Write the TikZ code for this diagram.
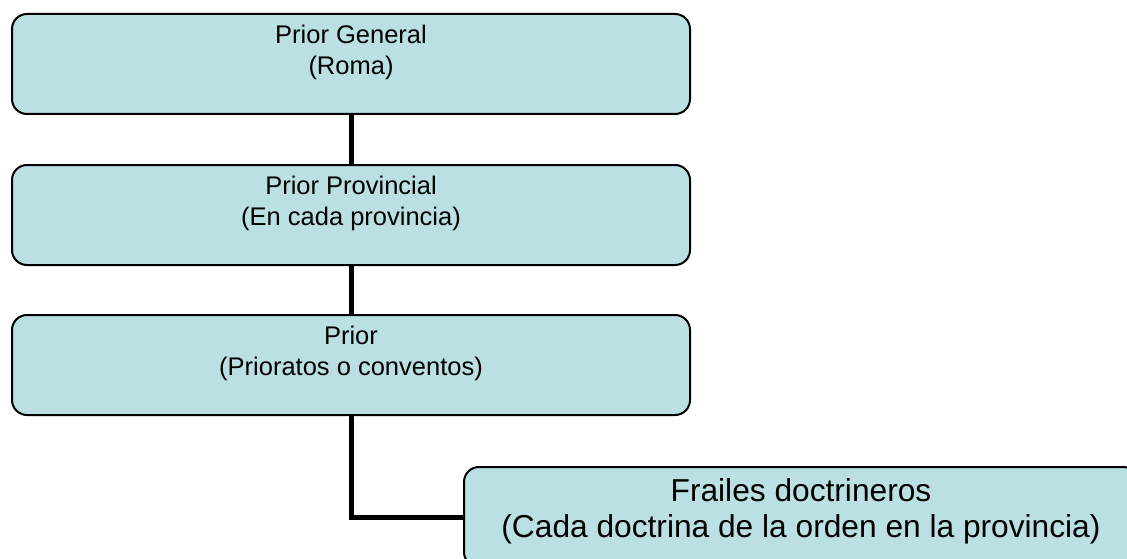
\documentclass[tikz,border=0pt]{standalone}
\usepackage{fontspec}
\setmainfont{Liberation Sans}
\definecolor{boxfill}{RGB}{187,224,227}
\begin{document}
\begin{tikzpicture}[x=1pt,y=-1pt,
  orgbox/.style={draw=black, line width=2pt, fill=boxfill, rounded corners=15pt,
    minimum width=678pt, minimum height=100pt, inner sep=0pt, anchor=north west},
  widebox/.style={orgbox, minimum width=674pt},
  link/.style={draw=black, line width=5pt},
  boxtext/.style={anchor=north, align=center, inner sep=0pt,
    font=\fontsize{25.5}{31}\selectfont},
  bigtext/.style={boxtext, font=\fontsize{31.7}{36}\selectfont}]
\useasboundingbox (0,0) rectangle (1127,559);
\clip (0,0) rectangle (1127,559);

% hierarchy boxes
\node[orgbox] (gen) at (11,13) {};
\node[orgbox] (prov) at (11,164) {};
\node[orgbox] (prior) at (11,314) {};
\node[widebox] (frailes) at (463,466) {};

% connectors
\draw[link] (gen.south) -- (prov.north);
\draw[link] (prov.south) -- (prior.north);
\draw[link] (prior.south) |- (frailes.west);

% box texts
\node[boxtext] (genT) at ([yshift=-11.5pt]gen.north) {Prior General\\(Roma)};
\node[boxtext] (provT) at ([yshift=-11.5pt]prov.north) {Prior Provincial\\(En cada provincia)};
\node[boxtext] (priorT) at ([yshift=-11.5pt]prior.north) {Prior\\(Prioratos o conventos)};
\node[bigtext] (frailesT) at ([yshift=-12pt]frailes.north) {Frailes doctrineros\\(Cada doctrina de la orden en la provincia)};
\end{tikzpicture}
\end{document}
